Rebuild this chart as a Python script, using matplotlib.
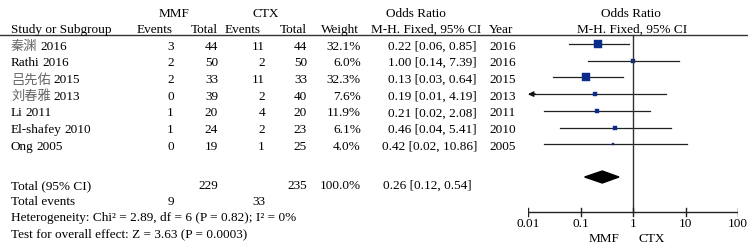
import numpy as np
import matplotlib.pyplot as plt

plt.rcParams['font.family'] = ['Liberation Serif', 'Noto Sans CJK SC']
plt.rcParams['font.size'] = 9.5

study_names = ["秦渊", "Rathi", "吕先佑", "刘春雅", "Li", "El-shafey", "Ong"]
years = [2016, 2016, 2015, 2013, 2011, 2010, 2005]
mmf_events = [3, 2, 2, 0, 1, 1, 0]
mmf_total = [44, 50, 33, 39, 20, 24, 19]
ctx_events = [11, 2, 11, 2, 4, 2, 1]
ctx_total = [44, 50, 33, 40, 20, 23, 25]
weights = [32.1, 6.0, 32.3, 7.6, 11.9, 6.1, 4.0]
odds = [0.22, 1.00, 0.13, 0.19, 0.21, 0.46, 0.42]
ci_low = [0.06, 0.14, 0.03, 0.01, 0.02, 0.04, 0.02]
ci_high = [0.85, 7.39, 0.64, 4.19, 2.08, 5.41, 10.86]

total_or, total_low, total_high = 0.26, 0.12, 0.54
total_mmf, total_ctx = 229, 235
events_mmf, events_ctx = 9, 33
ticks = [0.01, 0.1, 1, 10, 100]

fig = plt.figure(figsize=(7.48, 2.46), dpi=100)
tx = fig.add_axes([0, 0, 1, 1])
tx.set_xlim(0, 748)
tx.set_ylim(246, 0)
tx.axis('off')

# forest panel, log scale
fx = fig.add_axes([528 / 748, 0, 210 / 748, 1])
fx.set_xscale('log')
fx.set_xlim(0.01, 100)
fx.set_ylim(246, 0)
fx.axis('off')

# headers
hy1, hy2 = 14, 30
tx.text(174, hy1, "MMF", ha='center', va='center')
tx.text(266, hy1, "CTX", ha='center', va='center')
tx.text(416, hy1, "Odds Ratio", ha='center', va='center')
tx.text(631, hy1, "Odds Ratio", ha='center', va='center')
tx.text(11, hy2, "Study or Subgroup", ha='left', va='center')
tx.text(155, hy2, "Events", ha='center', va='center')
tx.text(204, hy2, "Total", ha='center', va='center')
tx.text(243, hy2, "Events", ha='center', va='center')
tx.text(293, hy2, "Total", ha='center', va='center')
tx.text(340, hy2, "Weight", ha='center', va='center')
tx.text(426, hy2, "M-H. Fixed, 95% CI", ha='center', va='center')
tx.text(489, hy2, "Year", ha='left', va='center')
tx.text(632, hy2, "M-H. Fixed, 95% CI", ha='center', va='center')
tx.plot([0, 748], [34.5, 34.5], color='#333333', lw=1)

fig.canvas.draw()
renderer = fig.canvas.get_renderer()

y0, dy = 46.5, 16.7
for i, name in enumerate(study_names):
    y = y0 + i * dy
    cjk = any(ord(c) > 0x2e80 for c in name)
    t = tx.text(11, y, name, ha='left', va='center', color='#666666' if cjk else 'black')
    bb = t.get_window_extent(renderer)
    x_end = tx.transData.inverted().transform((bb.x1, bb.y0))[0]
    tx.text(x_end + 3, y, str(years[i]), ha='left', va='center')
    tx.text(174, y, str(mmf_events[i]), ha='right', va='center')
    tx.text(218, y, str(mmf_total[i]), ha='right', va='center')
    tx.text(265, y, str(ctx_events[i]), ha='right', va='center')
    tx.text(307, y, str(ctx_total[i]), ha='right', va='center')
    tx.text(361, y, f"{weights[i]:.1f}%", ha='right', va='center')
    tx.text(477, y, f"{odds[i]:.2f} [{ci_low[i]:.2f}, {ci_high[i]:.2f}]", ha='right', va='center')
    tx.text(489, y, str(years[i]), ha='left', va='center')

    ym = y - 2.5
    if ci_low[i] <= 0.01:
        fx.plot([0.0105, ci_high[i]], [ym, ym], color='#222222', lw=0.9)
        fx.annotate('', xy=(0.01, ym), xytext=(0.014, ym),
                    arrowprops=dict(arrowstyle='-|>', color='#111111', lw=0.9,
                                    mutation_scale=8, shrinkA=0, shrinkB=0))
    else:
        fx.plot([ci_low[i], ci_high[i]], [ym, ym], color='#222222', lw=0.9)
    side = 1.3 * np.sqrt(weights[i])
    fx.plot(odds[i], ym, marker='s', ms=side * 0.72, color='#0a2d8c', mec='#0a2d8c', mew=0.3)

# totals
yt = 186
tx.text(11, yt, "Total (95% CI)", ha='left', va='center')
tx.text(218, yt, str(total_mmf), ha='right', va='center')
tx.text(307, yt, str(total_ctx), ha='right', va='center')
tx.text(361, yt, "100.0%", ha='right', va='center')
tx.text(472, yt, f"{total_or:.2f} [{total_low:.2f}, {total_high:.2f}]", ha='right', va='center')
tx.text(11, 202, "Total events", ha='left', va='center')
tx.text(174, 202, str(events_mmf), ha='right', va='center')
tx.text(265, 202, str(events_ctx), ha='right', va='center')
tx.text(11, 218, "Heterogeneity: Chi² = 2.89, df = 6 (P = 0.82); I² = 0%", ha='left', va='center')
tx.text(11, 234, "Test for overall effect: Z = 3.63 (P = 0.0003)", ha='left', va='center')

yd = 177
fx.fill([total_low, total_or, total_high, total_or], [yd, yd - 6, yd, yd + 6], color='black')

# reference line and axis
ya = 212
fx.plot([1, 1], [34.5, ya], color='#333333', lw=1)
fx.plot([0.01, 100], [ya, ya], color='#222222', lw=1)
for t in ticks:
    fx.plot([t, t], [ya - 4, ya + 3.5], color='#222222', lw=1)
    fx.text(t, 224, f"{t:g}", ha='center', va='center')
fx.text(0.56, 239, "MMF", ha='right', va='center')
fx.text(1.3, 239, "CTX", ha='left', va='center')

fig.savefig("out.png", dpi=100)
